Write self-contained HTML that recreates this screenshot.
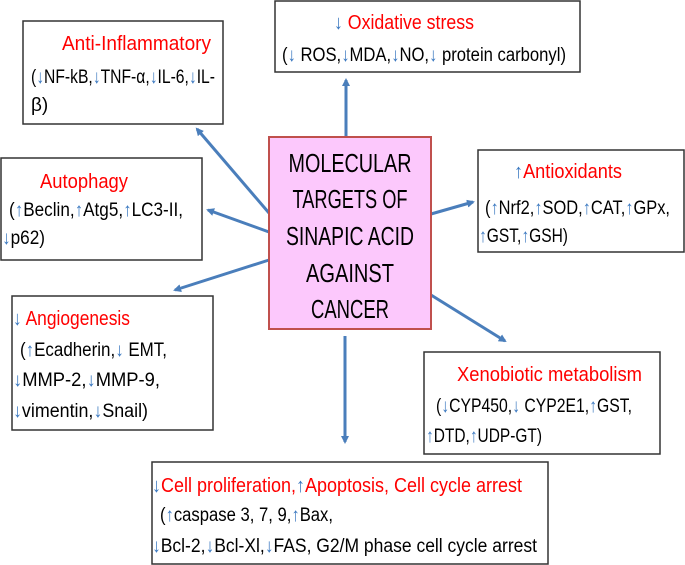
<!DOCTYPE html>
<html><head><meta charset="utf-8"><style>
html,body{margin:0;padding:0;background:#fff;}
svg{display:block;}
text{font-family:"Liberation Sans",sans-serif;font-size:19px;fill:#000;}
.r{fill:#f00;}
.t{font-size:20px;}
.a{fill:#3a78c0;}
.c{font-size:26px;}
</style></head><body>
<svg width="685" height="565" viewBox="0 0 685 565" xmlns="http://www.w3.org/2000/svg">
<defs><marker id="m" markerWidth="8" markerHeight="8" refX="6" refY="4" orient="auto" markerUnits="userSpaceOnUse"><path d="M0,0 L8,4 L0,8 Z" fill="#4a7ebb"/></marker></defs>
<g stroke="#4a7ebb" stroke-width="3" fill="none" marker-end="url(#m)">
<line x1="346" y1="137" x2="346" y2="80"/>
<line x1="269" y1="213" x2="197" y2="129"/>
<line x1="269" y1="232" x2="208" y2="210"/>
<line x1="269" y1="260" x2="175" y2="290"/>
<line x1="431" y1="214" x2="473" y2="202"/>
<line x1="431" y1="295" x2="505" y2="341"/>
<line x1="345" y1="336" x2="345" y2="442"/>
</g>
<g fill="#fff" stroke="#333" stroke-width="1.5">
<rect x="275" y="1" width="305" height="71"/>
<rect x="23" y="21" width="200" height="103"/>
<rect x="1" y="158" width="201" height="102"/>
<rect x="478" y="150" width="206" height="102"/>
<rect x="12" y="296" width="201" height="134"/>
<rect x="424" y="352" width="236" height="102"/>
<rect x="152" y="462" width="396" height="102"/>
</g>
<rect x="269" y="137" width="162" height="192" fill="#fcc8fc" stroke="#c0504d" stroke-width="2"/>
<g text-anchor="middle">
<text class="c" x="350" y="172" textLength="123" lengthAdjust="spacingAndGlyphs">MOLECULAR</text>
<text class="c" x="350" y="208" textLength="115" lengthAdjust="spacingAndGlyphs">TARGETS OF</text>
<text class="c" x="350" y="245" textLength="128" lengthAdjust="spacingAndGlyphs">SINAPIC ACID</text>
<text class="c" x="350" y="282" textLength="88" lengthAdjust="spacingAndGlyphs">AGAINST</text>
<text class="c" x="350" y="318" textLength="78" lengthAdjust="spacingAndGlyphs">CANCER</text>
</g>
<text class="t" x="334" y="29" textLength="140" lengthAdjust="spacingAndGlyphs"><tspan class="a">↓</tspan> <tspan class="r">Oxidative stress</tspan></text>
<text x="282" y="61" textLength="284" lengthAdjust="spacingAndGlyphs">(<tspan class="a">↓</tspan> ROS,<tspan class="a">↓</tspan>MDA,<tspan class="a">↓</tspan>NO,<tspan class="a">↓</tspan> protein carbonyl)</text>
<text class="r t" x="62" y="50" textLength="149" lengthAdjust="spacingAndGlyphs">Anti-Inflammatory</text>
<text x="31" y="83" textLength="184" lengthAdjust="spacingAndGlyphs">(<tspan class="a">↓</tspan>NF-kB,<tspan class="a">↓</tspan>TNF-α,<tspan class="a">↓</tspan>IL-6,<tspan class="a">↓</tspan>IL-</text>
<text x="31" y="111">β)</text>
<text class="r t" x="40" y="188" textLength="88" lengthAdjust="spacingAndGlyphs">Autophagy</text>
<text x="9" y="216" textLength="174" lengthAdjust="spacingAndGlyphs">(<tspan class="a">↑</tspan>Beclin,<tspan class="a">↑</tspan>Atg5,<tspan class="a">↑</tspan>LC3-II,</text>
<text x="2" y="244" textLength="43" lengthAdjust="spacingAndGlyphs"><tspan class="a">↓</tspan>p62)</text>
<text class="t" x="514" y="178" textLength="108" lengthAdjust="spacingAndGlyphs"><tspan class="a">↑</tspan><tspan class="r">Antioxidants</tspan></text>
<text x="485" y="214" textLength="185" lengthAdjust="spacingAndGlyphs">(<tspan class="a">↑</tspan>Nrf2,<tspan class="a">↑</tspan>SOD,<tspan class="a">↑</tspan>CAT,<tspan class="a">↑</tspan>GPx,</text>
<text x="479" y="242" textLength="89" lengthAdjust="spacingAndGlyphs"><tspan class="a">↑</tspan>GST,<tspan class="a">↑</tspan>GSH)</text>
<text class="t" x="13" y="325" textLength="117" lengthAdjust="spacingAndGlyphs"><tspan class="a">↓</tspan> <tspan class="r">Angiogenesis</tspan></text>
<text x="20" y="356" textLength="147" lengthAdjust="spacingAndGlyphs">(<tspan class="a">↑</tspan>Ecadherin,<tspan class="a">↓</tspan> EMT,</text>
<text x="13" y="386" textLength="147" lengthAdjust="spacingAndGlyphs"><tspan class="a">↓</tspan>MMP-2,<tspan class="a">↓</tspan>MMP-9,</text>
<text x="13" y="417" textLength="135" lengthAdjust="spacingAndGlyphs"><tspan class="a">↓</tspan>vimentin,<tspan class="a">↓</tspan>Snail)</text>
<text class="r t" x="457" y="381" textLength="185" lengthAdjust="spacingAndGlyphs">Xenobiotic metabolism</text>
<text x="436" y="412" textLength="196" lengthAdjust="spacingAndGlyphs">(<tspan class="a">↓</tspan>CYP450,<tspan class="a">↓</tspan> CYP2E1,<tspan class="a">↑</tspan>GST,</text>
<text x="426" y="442" textLength="116" lengthAdjust="spacingAndGlyphs"><tspan class="a">↑</tspan>DTD,<tspan class="a">↑</tspan>UDP-GT)</text>
<text class="t" x="152" y="492" textLength="370" lengthAdjust="spacingAndGlyphs"><tspan class="a">↓</tspan><tspan class="r">Cell proliferation,</tspan><tspan class="a">↑</tspan><tspan class="r">Apoptosis, Cell cycle arrest</tspan></text>
<text x="160" y="521" textLength="173" lengthAdjust="spacingAndGlyphs">(<tspan class="a">↑</tspan>caspase 3, 7, 9,<tspan class="a">↑</tspan>Bax,</text>
<text x="152" y="552" textLength="385" lengthAdjust="spacingAndGlyphs"><tspan class="a">↓</tspan>Bcl-2,<tspan class="a">↓</tspan>Bcl-Xl,<tspan class="a">↓</tspan>FAS, G2/M phase cell cycle arrest</text>
</svg>
</body></html>
